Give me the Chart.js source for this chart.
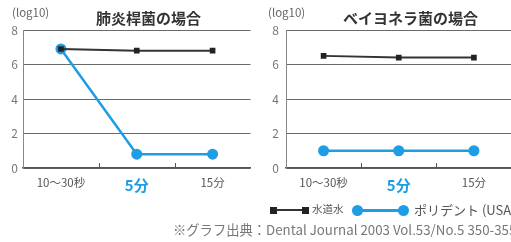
<!DOCTYPE html>
<html>
<head>
<meta charset="utf-8">
<script src="https://cdn.jsdelivr.net/npm/chart.js@4/dist/chart.umd.min.js"></script>
<style>
  html, body { margin: 0; padding: 0; background: #fff; overflow: hidden; }
  body { width: 511px; height: 242px; position: relative; font-family: "Noto Sans CJK JP", "Noto Sans", sans-serif; }
  canvas { position: absolute; top: 0; }
  .t { position: absolute; white-space: nowrap; line-height: 1; }
  .title { font-size: 15px; font-weight: bold; color: #333; top: 10px; }
  .unit { font-size: 11.5px; color: #666; top: 7px; }
  .lg { font-size: 10.5px; color: #555; top: 204px; }
  .note { font-size: 13.3px; color: #777; top: 223px; left: 173px; }
  .mk { position: absolute; }
</style>
</head>
<body>
<canvas id="c1" width="256" height="195" style="left:0"></canvas>
<canvas id="c2" width="262" height="195" style="left:255px"></canvas>

<div class="t unit" style="left:12px">(log10)</div>
<div class="t title" style="left:96px">肺炎桿菌の場合</div>
<div class="t unit" style="left:268px">(log10)</div>
<div class="t title" style="left:343px">ベイヨネラ菌の場合</div>

<!-- legend -->
<div class="mk" style="left:270px;top:207px;width:7px;height:7px;background:#222"></div>
<div class="mk" style="left:276px;top:209px;width:27px;height:2px;background:#333"></div>
<div class="mk" style="left:302px;top:207px;width:7px;height:7px;background:#222"></div>
<div class="t lg" style="left:312px">水道水</div>
<div class="mk" style="left:358px;top:209px;width:46px;height:3px;background:#1e9de5"></div>
<div class="mk" style="left:352px;top:205px;width:11px;height:11px;border-radius:50%;background:#1e9de5"></div>
<div class="mk" style="left:398px;top:205px;width:11px;height:11px;border-radius:50%;background:#1e9de5"></div>
<div class="t lg" style="left:414px;font-size:13px;top:203px">ポリデント (USA)</div>

<div class="t note">※グラフ出典：Dental Journal 2003 Vol.53/No.5 350-355</div>

<script>
// data
var times = ['10～30秒', '5分', '15分'];
var yTicks = [0, 2, 4, 6, 8];
var seriesNames = ['水道水', 'ポリデント(USA)'];

var pneumoWater = [6.9, 6.8, 6.8];
var pneumoPoli = [6.9, 0.8, 0.8];
var veilWater = [6.5, 6.4, 6.4];
var veilPoli = [1.0, 1.0, 1.0];

var blue = '#1e9de5';

// small up-ticks between categories
var innerTicks = {
    id: 'innerTicks',
    afterDraw: function (chart) {
        var x = chart.scales.x;
        var ctx = chart.ctx;
        ctx.save();
        ctx.strokeStyle = '#555';
        ctx.lineWidth = 1;
        for (var i = 1; i < times.length; i++) {
            var px = Math.round((x.getPixelForTick(i - 1) + x.getPixelForTick(i)) / 2) + 0.5;
            ctx.beginPath();
            ctx.moveTo(px, x.top);
            ctx.lineTo(px, x.top - 5);
            ctx.stroke();
        }
        ctx.restore();
    }
};

function makeChart(id, water, poli, yWidth, yPad, padRight) {
    return new Chart(id, {
        type: 'line',
        plugins: [innerTicks],
        data: {
            labels: times,
            datasets: [{
                label: seriesNames[0],
                data: water,
                borderColor: '#333',
                borderWidth: 2,
                backgroundColor: '#222',
                pointStyle: 'rect',
                radius: 4,
                pointBorderWidth: 0,
                tension: 0
            }, {
                label: seriesNames[1],
                data: poli,
                borderColor: blue,
                borderWidth: 2.5,
                backgroundColor: blue,
                pointStyle: 'circle',
                radius: 5.5,
                pointBorderWidth: 0,
                tension: 0
            }]
        },
        options: {
            responsive: false,
            animation: false,
            layout: { padding: { top: 30, right: padRight, left: 0, bottom: 0 } },
            plugins: {
                legend: { display: false },
                tooltip: { enabled: false }
            },
            scales: {
                x: {
                    offset: true,
                    grid: { display: false, drawTicks: false },
                    border: { display: true, color: '#555', width: 1.5 },
                    afterFit: function (s) { s.height = 27; },
                    ticks: {
                        padding: 8,
                        color: function (c) { return c.index === 1 ? blue : '#555'; },
                        font: function (c) {
                            return c.index === 1
                                ? { family: '"Noto Sans CJK JP"', size: 15, weight: 'bold' }
                                : { family: '"Noto Sans CJK JP"', size: 11.5 };
                        }
                    }
                },
                y: {
                    min: yTicks[0],
                    max: yTicks[yTicks.length - 1],
                    afterBuildTicks: function (s) {
                        s.ticks = yTicks.map(function (v) { return { value: v }; });
                    },
                    afterFit: function (s) { s.width = yWidth; },
                    grid: { color: '#6a6a6a', lineWidth: 1, drawTicks: false },
                    border: { display: true, color: '#888', width: 1 },
                    ticks: {
                        padding: yPad,
                        color: '#777',
                        font: { family: '"Noto Sans CJK JP"', size: 12 }
                    }
                }
            }
        }
    });
}

makeChart('c1', pneumoWater, pneumoPoli, 23, 5, 2);
makeChart('c2', veilWater, veilPoli, 31, 7, 0);
</script>
</body>
</html>
